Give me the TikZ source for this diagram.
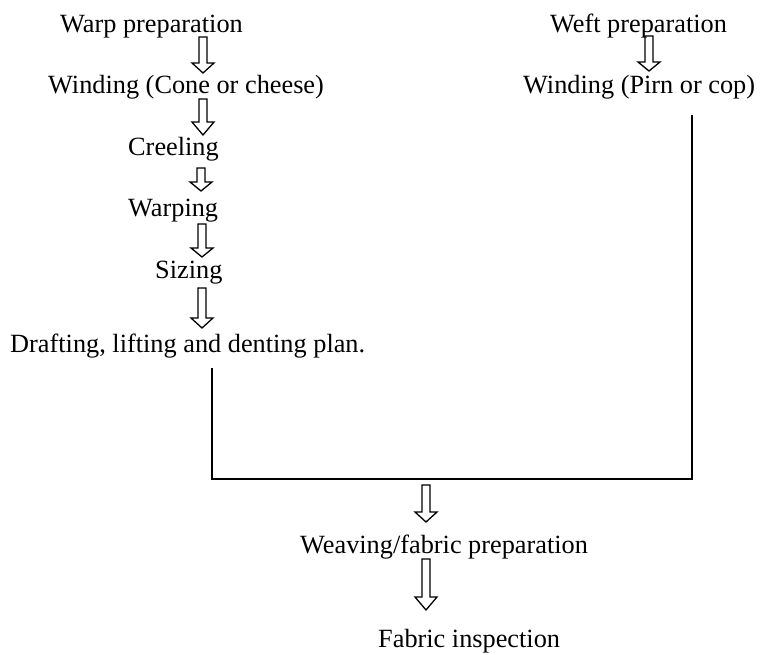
\documentclass[tikz,border=0pt]{standalone}
\usepackage{fontspec}
\setmainfont{Liberation Serif}
\begin{document}
\begin{tikzpicture}[x=1pt,y=-1pt,
  lbl/.style={anchor=base west,inner sep=0pt,font=\fontsize{26.3}{30}\selectfont},
  conn/.style={line width=1.7pt},
  arrowline/.style={line width=1.3pt,line join=miter},
  pics/barrow/.style args={#1/#2}{code={
    \draw[arrowline] (-4,0) -- (-4,#1) -- (-11,#1) -- (0,#2) -- (11,#1) -- (4,#1) -- (4,0) -- cycle;}}]
\useasboundingbox (0,0) rectangle (760,655);
% text nodes
\node[lbl] (warp) at (60,33) {Warp preparation};
\node[lbl] (wcone) at (48,94) {Winding (Cone or cheese)};
\node[lbl] (creel) at (128,156) {Creeling};
\node[lbl] (warping) at (128,217) {Warping};
\node[lbl] (sizing) at (155,278) {Sizing};
\node[lbl] (draft) at (10,352) {Drafting, lifting and denting plan.};
\node[lbl] (weft) at (550,33) {Weft preparation};
\node[lbl] (wpirn) at (523,94) {Winding (Pirn or cop)};
\node[lbl] (weave) at (300,553) {Weaving/fabric preparation};
\node[lbl] (insp) at (378,647) {Fabric inspection};
% block arrows
\pic at (203,37) {barrow={26/36}};
\pic at (203,99) {barrow={23/36}};
\pic at (201,168) {barrow={14/23}};
\pic at (202,224) {barrow={24/33}};
\pic at (202,288) {barrow={30/40}};
\pic at (649,36) {barrow={26/35}};
\pic at (426,485) {barrow={27/37}};
\pic at (426,559) {barrow={38/51}};
% connectors
\coordinate (ls) at (212,368);
\coordinate (rs) at (692,115);
\coordinate (jl) at (212,479);
\coordinate (jr) at (692,479);
\draw[conn] (ls) -- (jl) -- (jr) -- (rs);
\end{tikzpicture}
\end{document}
